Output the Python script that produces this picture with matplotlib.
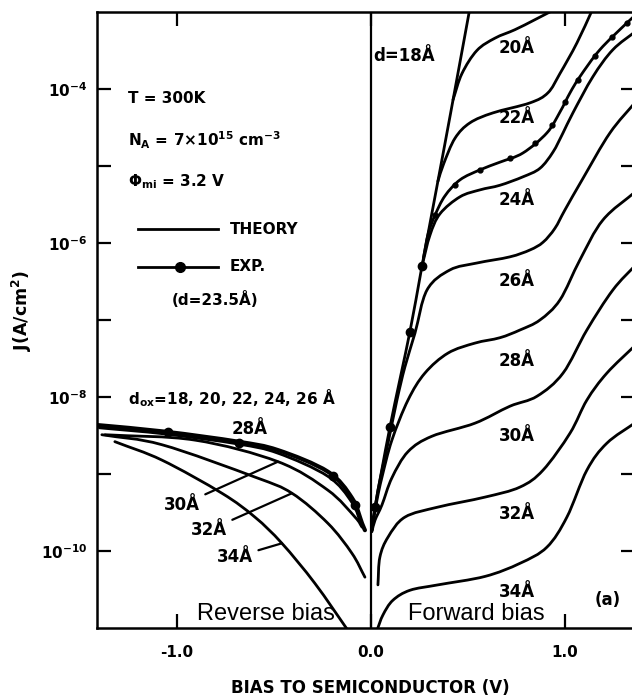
import numpy as np
import matplotlib
matplotlib.use('Agg')
from matplotlib import pyplot as plt
from matplotlib.ticker import NullFormatter
from matplotlib.path import Path
from matplotlib.patches import PathPatch

# bias (V) and log10 of current density J (A/cm^2)
# forward bias, theory
fwd18_v = [0.005, 0.021, 0.098, 0.201, 0.263, 0.371, 0.443, 0.51]
fwd18_logj = [-9.73, -9.43, -8.39, -7.15, -6.30, -4.85, -3.87, -2.95]
fwd20_v = [0.423, 0.469, 0.546, 0.639, 0.742, 0.845, 0.96]
fwd20_logj = [-4.14, -3.80, -3.50, -3.34, -3.23, -3.10, -2.95]
fwd22_v = [0.345, 0.375, 0.433, 0.510, 0.629, 0.820, 0.912, 0.974, 1.062, 1.145]
fwd22_logj = [-5.20, -4.97, -4.64, -4.44, -4.31, -4.18, -4.05, -3.80, -3.40, -2.95]
fwd24_v = [0.263, 0.304, 0.356, 0.459, 0.562, 0.665, 0.784, 0.871, 0.938, 0.990, 1.041, 1.144, 1.247, 1.37]
fwd24_logj = [-6.30, -5.90, -5.62, -5.40, -5.31, -5.25, -5.14, -5.03, -4.82, -4.57, -4.31, -3.84, -3.49, -3.24]
fwd26_v = [0.005, 0.036, 0.088, 0.134, 0.175, 0.227, 0.289, 0.407, 0.546, 0.716, 0.820, 0.887, 0.948, 1.000, 1.093, 1.232, 1.37]
fwd26_logj = [-9.73, -9.21, -8.60, -8.04, -7.61, -7.17, -6.61, -6.35, -6.26, -6.18, -6.09, -5.99, -5.81, -5.57, -5.16, -4.57, -4.15]
fwd28_v = [0.005, 0.031, 0.057, 0.108, 0.191, 0.278, 0.397, 0.536, 0.665, 0.768, 0.871, 0.974, 1.077, 1.196, 1.37]
fwd28_logj = [-9.73, -9.34, -9.04, -8.56, -8.04, -7.69, -7.43, -7.30, -7.23, -7.13, -7.00, -6.74, -6.22, -5.70, -5.32]
fwd30_v = [0.005, 0.021, 0.057, 0.108, 0.191, 0.314, 0.536, 0.716, 0.856, 0.990, 1.113, 1.247, 1.37]
fwd30_logj = [-9.75, -9.60, -9.40, -9.05, -8.71, -8.51, -8.34, -8.12, -7.99, -7.69, -7.13, -6.61, -6.27]
fwd32_v = [0.036, 0.046, 0.088, 0.175, 0.345, 0.588, 0.768, 0.887, 1.026, 1.113, 1.216, 1.37]
fwd32_logj = [-10.44, -10.08, -9.82, -9.56, -9.43, -9.30, -9.17, -8.95, -8.47, -8.04, -7.69, -7.31]
fwd34_v = [0.031, 0.062, 0.113, 0.201, 0.345, 0.588, 0.768, 0.907, 1.010, 1.113, 1.216, 1.37]
fwd34_logj = [-11.03, -10.83, -10.64, -10.51, -10.44, -10.33, -10.16, -9.95, -9.56, -8.95, -8.60, -8.32]

# forward bias, experiment (d=23.5 A)
exp_v = [0.270, 0.295, 0.330, 0.381, 0.459, 0.562, 0.665, 0.784, 0.907, 0.974, 1.026, 1.077, 1.180, 1.320, 1.39]
exp_logj = [-6.20, -5.88, -5.64, -5.39, -5.18, -5.05, -4.95, -4.83, -4.57, -4.30, -4.05, -3.84, -3.49, -3.14, -2.98]
exp_fwd_v = [0.021, 0.098, 0.201, 0.263, 0.330, 0.433, 0.562, 0.716, 0.845, 0.933, 1.0, 1.067, 1.155, 1.242, 1.32]
exp_fwd_logj = [-9.43, -8.39, -7.15, -6.30, -5.64, -5.25, -5.05, -4.90, -4.70, -4.47, -4.17, -3.88, -3.57, -3.33, -3.14]

# reverse bias
rev_top_v = [-1.43, -1.062, -0.686, -0.479, -0.222, -0.098, -0.046, -0.031]
rev_top_logj = [-8.36, -8.45, -8.58, -8.69, -8.97, -9.31, -9.64, -9.73]
rev28_v = [-1.40, -1.062, -0.686, -0.479, -0.222, -0.098, -0.046]
rev28_logj = [-8.40, -8.48, -8.61, -8.73, -9.03, -9.37, -9.68]
rev30_v = [-1.371, -0.907, -0.479, -0.222, -0.082, -0.046]
rev30_logj = [-8.49, -8.56, -8.84, -9.21, -9.56, -9.69]
rev32_v = [-1.387, -1.077, -0.598, -0.407, -0.222, -0.098, -0.031]
rev32_logj = [-8.49, -8.62, -9.04, -9.25, -9.64, -10.03, -10.34]
rev34_v = [-1.320, -1.077, -0.768, -0.598, -0.459, -0.289, -0.119, -0.10]
rev34_logj = [-8.58, -8.82, -9.25, -9.56, -9.90, -10.42, -11.03, -11.1]
exp_rev_v = [-1.046, -0.680, -0.196, -0.082]
exp_rev_logj = [-8.45, -8.60, -9.03, -9.40]

# curve labels
fwd_labels = ['d=18Å', '20Å', '22Å', '24Å', '26Å', '28Å', '30Å', '32Å', '34Å']
fwd_label_v = [0.17, 0.75, 0.75, 0.75, 0.75, 0.75, 0.75, 0.75, 0.75]
fwd_label_logj = [-3.57, -3.47, -4.38, -5.44, -6.49, -7.53, -8.51, -9.52, -10.53]
rev_labels = ['30Å', '32Å', '34Å']
rev_label_v = [-0.974, -0.835, -0.701]
rev_label_logj = [-9.40, -9.73, -10.08]
rev_point_v = [-0.479, -0.407, -0.459]
rev_point_logj = [-8.84, -9.25, -9.90]

yticks_major = [-10, -8, -6, -4]
yticks_minor = [-9, -7, -5]
xticks = [-1.0, 0.0, 1.0]


def J(logj):
    return 10.0 ** np.asarray(logj)


def smooth_curve(ax, v, logj, lw=2.0):
    # Catmull-Rom through the read points, drawn as bezier segments in (V, log J)
    p = np.column_stack([v, logj]).astype(float)
    ext = np.vstack([2 * p[0] - p[1], p, 2 * p[-1] - p[-2]])
    verts = [p[0]]
    codes = [Path.MOVETO]
    for i in range(1, len(ext) - 2):
        c1 = ext[i] + (ext[i + 1] - ext[i - 1]) / 6.0
        c2 = ext[i + 1] - (ext[i + 2] - ext[i]) / 6.0
        verts += [c1, c2, ext[i + 1]]
        codes += [Path.CURVE4] * 3
    verts = np.array(verts)
    verts[:, 1] = 10.0 ** verts[:, 1]
    patch = PathPatch(Path(verts, codes), fill=False, lw=lw, edgecolor='k',
                      capstyle='round', joinstyle='round', transform=ax.transData)
    ax.add_patch(patch)


plt.rcParams['font.family'] = ['DejaVu Sans']
plt.rcParams['font.weight'] = 'bold'
plt.rcParams['mathtext.fontset'] = 'custom'
plt.rcParams['mathtext.rm'] = 'DejaVu Sans:bold'
plt.rcParams['mathtext.it'] = 'DejaVu Sans:bold'
plt.rcParams['mathtext.bf'] = 'DejaVu Sans:bold'
plt.rcParams['mathtext.default'] = 'rm'

fig = plt.figure(figsize=(6.32, 6.99), dpi=100)
ax = fig.add_axes([97 / 632, 71 / 699, 538 / 632, 616 / 699])
ax.set_yscale('log')
ax.set_xlim(-1.412, 1.361)
ax.set_ylim(1e-11, 1e-3)

lw = 2.0
fwd = [(fwd18_v, fwd18_logj), (fwd20_v, fwd20_logj), (fwd22_v, fwd22_logj),
       (fwd24_v, fwd24_logj), (fwd26_v, fwd26_logj), (fwd28_v, fwd28_logj),
       (fwd30_v, fwd30_logj), (fwd32_v, fwd32_logj), (fwd34_v, fwd34_logj)]
for v, lj in fwd:
    smooth_curve(ax, v, lj, lw)
smooth_curve(ax, exp_v, exp_logj, lw)
ax.plot(exp_fwd_v[:4], J(exp_fwd_logj[:4]), 'ko', ms=6)
ax.plot(exp_fwd_v[4:], J(exp_fwd_logj[4:]), 'ko', ms=3.5)

rev = [(rev28_v, rev28_logj), (rev30_v, rev30_logj),
       (rev32_v, rev32_logj), (rev34_v, rev34_logj)]
for v, lj in rev:
    smooth_curve(ax, v, lj, lw)
smooth_curve(ax, rev_top_v, rev_top_logj, 3.0)
ax.plot(exp_rev_v, J(exp_rev_logj), 'ko', ms=6)

ax.axvline(0.0, color='k', lw=1.6)

# axes styling
for s in ax.spines.values():
    s.set_linewidth(1.8)
ax.set_yticks(J(yticks_major))
ax.set_yticklabels(['10$^{%d}$' % t for t in yticks_major])
ax.set_yticks(J(yticks_minor), minor=True)
ax.yaxis.set_minor_formatter(NullFormatter())
ax.set_xticks(xticks)
ax.set_xticklabels(['%.1f' % t for t in xticks])
ax.tick_params(which='both', direction='in', top=True, right=True, length=10, width=1.6, labelsize=11)
ax.tick_params(axis='y', pad=7)
ax.tick_params(axis='x', pad=12)

# curve labels
for t, v, lj in zip(fwd_labels, fwd_label_v, fwd_label_logj):
    ax.text(v, 10 ** lj, t, ha='center', va='center', fontsize=12)
ax.text(1.222, 10 ** -10.64, '(a)', ha='center', va='center', fontsize=12)
for t, v, lj, pv, plj in zip(rev_labels, rev_label_v, rev_label_logj, rev_point_v, rev_point_logj):
    ax.annotate(t, xy=(pv, 10 ** plj), xytext=(v, 10 ** lj), ha='center', va='center', fontsize=12,
                arrowprops=dict(arrowstyle='-', lw=1.6, color='k', shrinkA=2, shrinkB=0))
ax.text(-1.253, 10 ** -8.10, 'd$_{\\mathregular{ox}}$=18, 20, 22, 24, 26 Å', ha='left', va='baseline', fontsize=11)
ax.text(-0.624, 10 ** -8.42, '28Å', ha='center', va='center', fontsize=12)

ax.text(0.541, 10 ** -10.90, 'Forward bias', ha='center', va='baseline', fontsize=17,
        fontweight='normal', family='Liberation Sans')
ax.text(-0.541, 10 ** -10.90, 'Reverse bias', ha='center', va='baseline', fontsize=17,
        fontweight='normal', family='Liberation Sans')

# parameters and key
ax.text(-1.253, 10 ** -4.18, 'T = 300K', ha='left', va='baseline', fontsize=11)
ax.text(-1.253, 10 ** -4.75, 'N$_{A}$ = 7×10$^{15}$ cm$^{-3}$', ha='left', va='baseline', fontsize=11)
ax.text(-1.253, 10 ** -5.27, 'Φ$_{mi}$ = 3.2 V', ha='left', va='baseline', fontsize=11)
ax.plot([-1.201, -0.789], J([-5.82, -5.82]), color='k', lw=lw)
ax.text(-0.727, 10 ** -5.82, 'THEORY', ha='left', va='center', fontsize=11)
ax.plot([-1.201, -0.789], J([-6.31, -6.31]), color='k', lw=lw)
ax.plot([-0.985], J([-6.31]), 'ko', ms=7)
ax.text(-0.727, 10 ** -6.31, 'EXP.', ha='left', va='center', fontsize=11)
ax.text(-0.804, 10 ** -6.73, '(d=23.5Å)', ha='center', va='center', fontsize=11)

fig.text(22 / 632, 1 - 310 / 699, 'J(A/cm$^{2}$)', rotation=90, ha='center', va='center', fontsize=12.5)
fig.text(370 / 632, 1 - 688 / 699, 'BIAS TO SEMICONDUCTOR (V)', ha='center', va='center', fontsize=12)

fig.savefig('out.png', dpi=100)
